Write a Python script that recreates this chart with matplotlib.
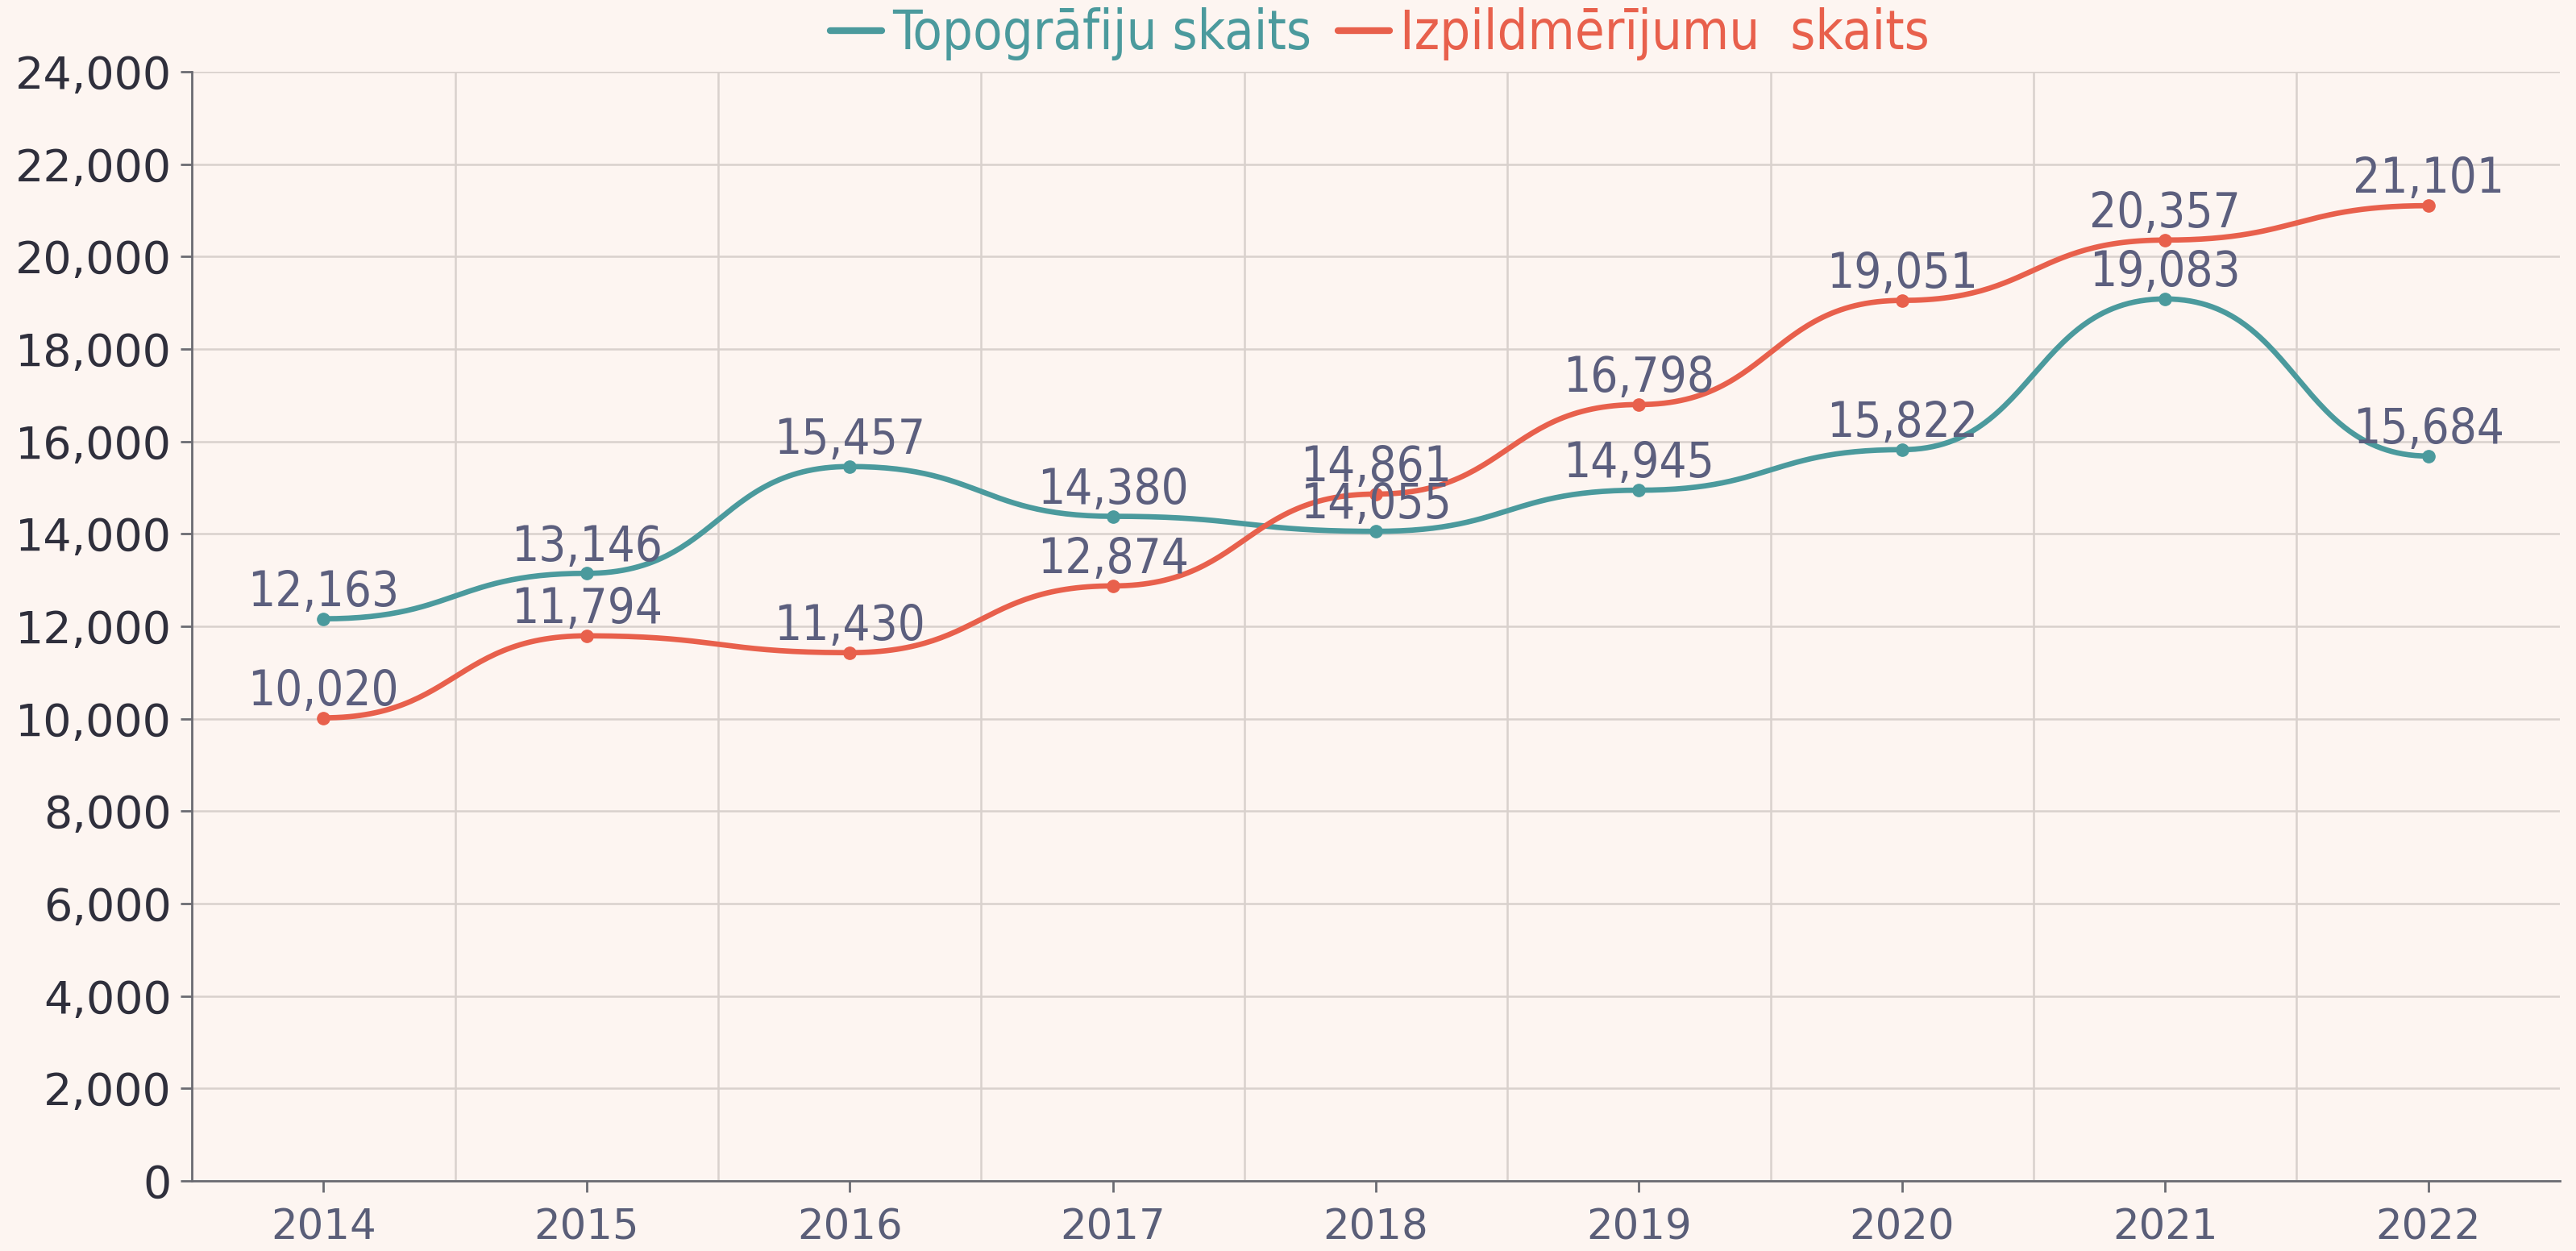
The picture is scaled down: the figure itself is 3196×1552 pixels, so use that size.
import matplotlib
matplotlib.use("Agg")
import matplotlib.pyplot as plt
from matplotlib.ticker import FuncFormatter, MultipleLocator
import numpy as np

years = ["2014", "2015", "2016", "2017", "2018", "2019", "2020", "2021", "2022"]
topo = [12163, 13146, 15457, 14380, 14055, 14945, 15822, 19083, 15684]
izpild = [10020, 11794, 11430, 12874, 14861, 16798, 19051, 20357, 21101]
series_names = ["Topogrāfiju skaits", "Izpildmērījumu  skaits"]

BG = "#fdf5f1"
TEAL = "#4b9a9d"
RED = "#e8604c"
LABEL = "#5c5f7e"


def bump(x, y, n=60):
    # bezier between neighbours with flat handles, only for drawing the curve
    xs, ys = [], []
    t = np.linspace(0, 1, n)
    for i in range(len(x) - 1):
        x0, x1, y0, y1 = x[i], x[i + 1], y[i], y[i + 1]
        xm = (x0 + x1) / 2
        bx = (1 - t)**3 * x0 + 3 * (1 - t)**2 * t * xm + 3 * (1 - t) * t**2 * xm + t**3 * x1
        by = (1 - t)**3 * y0 + 3 * (1 - t)**2 * t * y0 + 3 * (1 - t) * t**2 * y1 + t**3 * y1
        xs.append(bx)
        ys.append(by)
    return np.concatenate(xs), np.concatenate(ys)


fig = plt.figure(figsize=(31.96, 15.52), dpi=100, facecolor=BG)
ax = fig.add_axes([0.0745, 0.056, 0.9192, 0.8867], facecolor=BG)

x = np.arange(len(years))
for vals, color, name in [(topo, TEAL, series_names[0]), (izpild, RED, series_names[1])]:
    sx, sy = bump(x, vals)
    ax.plot(sx, sy, color=color, lw=4.8, solid_capstyle="round", label=name, zorder=3)
    ax.plot(x, vals, "o", color=color, ms=11, zorder=4)
    for xi, v in zip(x, vals):
        ax.annotate(f"{v:,}", (xi, v), xytext=(0, 2), textcoords="offset points",
                    ha="center", va="bottom", fontsize=43, color=LABEL,
                    family="DejaVu Sans", fontstretch="condensed", zorder=5)

ax.set_xlim(-0.5, 8.5)
ax.set_ylim(0, 24000)
ax.yaxis.set_major_locator(MultipleLocator(2000))
ax.yaxis.set_major_formatter(FuncFormatter(lambda v, p: f"{int(v):,}"))
ax.set_xticks(x)
ax.set_xticklabels(years)
ax.set_xticks(x[:-1] + 0.5, minor=True)

ax.grid(axis="y", which="major", color="#d9d1cd", lw=1.8)
ax.grid(axis="x", which="minor", color="#d9d1cd", lw=1.8)
ax.set_axisbelow(True)
for s in ["top", "right"]:
    ax.spines[s].set_visible(False)
ax.spines["left"].set_color("#6b6b72")
ax.spines["bottom"].set_color("#6b6b72")
ax.spines["left"].set_linewidth(2)
ax.spines["bottom"].set_linewidth(2)
ax.tick_params(axis="y", which="major", length=10, width=2, color="#6b6b72",
               labelsize=40, labelcolor="#2f2f3c", pad=8)
ax.tick_params(axis="x", which="major", length=10, width=2, color="#6b6b72",
               labelsize=37, labelcolor="#5a5e78", pad=14)
ax.tick_params(axis="x", which="minor", length=0)

leg = fig.legend(loc="center", bbox_to_anchor=(0.5357, 0.973), ncol=2, frameon=False,
                 handlelength=0.95, handletextpad=0.2, columnspacing=0.5,
                 prop={"family": "DejaVu Sans", "stretch": "condensed", "size": 48})
for txt, line in zip(leg.get_texts(), leg.get_lines()):
    txt.set_color(line.get_color())
    line.set_linewidth(6)

fig.savefig("out.png", dpi=100, facecolor=BG)
